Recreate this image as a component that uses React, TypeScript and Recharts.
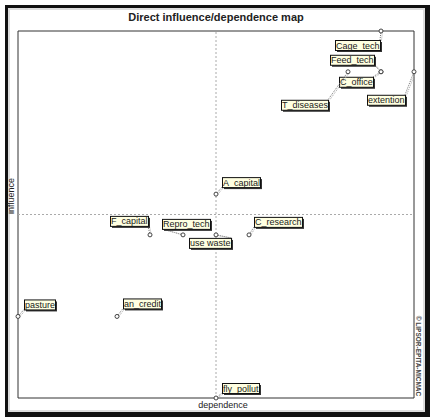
import React from "react";
import { ScatterChart, Scatter, XAxis, YAxis, ReferenceLine, ReferenceArea } from "recharts";

const NAMES = [
  "Cage_tech",
  "Feed_tech",
  "C_office",
  "T_diseases",
  "extention",
  "A_capital",
  "F_capital",
  "Repro_tech",
  "use waste",
  "C_research",
  "pasture",
  "an_credit",
  "fly_pollut",
];
const DEPENDENCE = [11, 11, 11, 10, 12, 6, 4, 5, 6, 7, 0, 3, 6];
const INFLUENCE = [9, 8, 8, 8, 8, 5, 4, 4, 4, 4, 2, 2, 0];

// label box placement relative to its point (layout only)
const LABEL_POS: Record<string, [number, number]> = {
  Cage_tech: [-46, 9],
  Feed_tech: [-51, -17],
  C_office: [-42, 5],
  T_diseases: [-67, 28],
  extention: [-47, 23],
  A_capital: [6, -17],
  F_capital: [-40, -19],
  Repro_tech: [-21, -16],
  "use waste": [-27, 3],
  C_research: [5, -18],
  pasture: [6, -17],
  an_credit: [6, -18],
  fly_pollut: [6, -15],
};

const LABEL_FONT = "9px 'Liberation Sans', Arial, sans-serif";

const data = NAMES.map((name, i) => ({ name, x: DEPENDENCE[i], y: INFLUENCE[i] }));

let ctx: CanvasRenderingContext2D | null = null;
function textWidth(s: string) {
  if (!ctx) ctx = document.createElement("canvas").getContext("2d");
  if (!ctx) return s.length * 4.8;
  ctx.font = LABEL_FONT;
  return ctx.measureText(s).width;
}

function PointLabel(props: any) {
  const { cx, cy, payload } = props;
  const [dx, dy] = LABEL_POS[payload.name] || [5, -15];
  const w = Math.round(textWidth(payload.name)) + 1;
  const h = 10;
  const bx = cx + dx;
  const by = cy + dy;
  // connector goes to the box corner nearest the point
  const ex = Math.abs(bx - cx) < Math.abs(bx + w - cx) ? bx : bx + w;
  const ey = Math.abs(by - cy) < Math.abs(by + h - cy) ? by : by + h;
  return (
    <g>
      <line x1={cx} y1={cy} x2={ex} y2={ey} stroke="#777" strokeDasharray="1 1" />
      <line x1={cx + 1.5} y1={cy + 0.5} x2={ex + 1.5} y2={ey + 0.5} stroke="#aaa" strokeDasharray="1 1" />
      <rect x={bx + 2} y={by + 2} width={w} height={h} fill="#333" />
      <rect x={bx + 0.5} y={by + 0.5} width={w} height={h} fill="#ffffe1" stroke="#111" />
      <text x={bx + 1} y={by + 8.5} fontSize={9} fontFamily="'Liberation Sans', Arial, sans-serif" fill="#1a1a1a">
        {payload.name}
      </text>
      <circle cx={cx} cy={cy} r={2} fill="#fff" stroke="#444" strokeWidth={1} />
    </g>
  );
}

export default function App() {
  return (
    <div style={{ position: "fixed", left: 0, top: 0, width: 431, height: 419, background: "#fff" }}>
      <div
        style={{
          position: "absolute",
          left: 5,
          top: 5,
          width: 417,
          height: 404,
          borderStyle: "solid",
          borderColor: "#111",
          borderWidth: "3px 5px 5px 3px",
          boxSizing: "content-box",
        }}
      >
        <div style={{ position: "absolute", inset: 0, border: "2px solid #ddd" }} />
      </div>
      <div style={{ position: "absolute", left: 0, top: 0 }}>
        <ScatterChart width={431} height={419} margin={{ top: 31, right: 17, bottom: 21, left: 18 }}>
          <XAxis type="number" dataKey="x" domain={[0, 12]} hide />
          <YAxis type="number" dataKey="y" domain={[0, 9]} hide />
          <ReferenceLine x={6} stroke="#aaa" strokeDasharray="2 2" />
          <ReferenceLine y={4.5} stroke="#aaa" strokeDasharray="2 2" />
          <ReferenceArea x1={0} x2={12} y1={0} y2={9} fill="none" stroke="#333" strokeWidth={1} />
          <Scatter data={data} shape={PointLabel} isAnimationActive={false} />
        </ScatterChart>
      </div>
      <svg width={431} height={419} style={{ position: "absolute", left: 0, top: 0, pointerEvents: "none" }}>
        <text
          x={216}
          y={21}
          textAnchor="middle"
          fontSize={11}
          fontWeight="bold"
          fontFamily="'Liberation Sans', Arial, sans-serif"
          fill="#222"
        >
          Direct influence/dependence map
        </text>
        <text x={223} y={408} textAnchor="middle" fontSize={9} fontFamily="'Liberation Sans', Arial, sans-serif" fill="#222">
          dependence
        </text>
        <text
          x={14}
          y={196}
          textAnchor="middle"
          fontSize={9}
          fontFamily="'Liberation Sans', Arial, sans-serif"
          fill="#222"
          transform="rotate(-90 14 196)"
        >
          influence
        </text>
        <text
          x={416}
          y={356}
          textAnchor="middle"
          fontSize={6.5}
          fontWeight="bold"
          fontFamily="'Liberation Sans', Arial, sans-serif"
          fill="#444"
          transform="rotate(90 416 356)"
        >
          © LIPSOR-EPITA-MICMAC
        </text>
      </svg>
    </div>
  );
}
